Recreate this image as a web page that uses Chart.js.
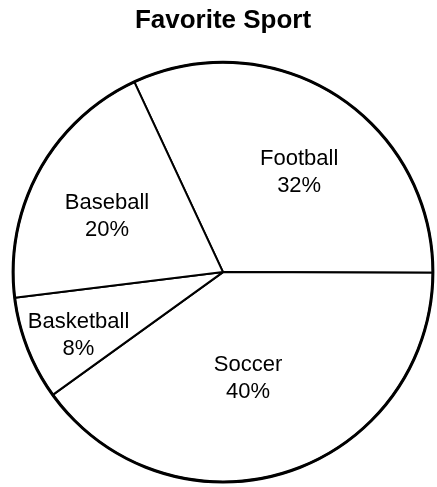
<!DOCTYPE html>
<html>
<head>
<meta charset="utf-8">
<script src="https://cdn.jsdelivr.net/npm/chart.js@4.4.0/dist/chart.umd.min.js"></script>
<style>
  html, body { margin: 0; padding: 0; background: #fff; }
  #wrap { width: 437px; height: 487px; }
</style>
</head>
<body>
<div id="wrap"><canvas id="myChart"></canvas></div>
<script>
const sports = ['Football', 'Soccer', 'Basketball', 'Baseball'];
const percents = [32, 40, 8, 20];

// placement of labels inside slices (fraction of radius, shift in degrees)
const labelRadius = [0.6, 0.52, 0.75, 0.615];
const labelShift = [4.6, 4.5, -2, -3];

const sliceLabels = {
  id: 'sliceLabels',
  afterDatasetsDraw(chart) {
    const ctx = chart.ctx;
    const arcs = chart.getDatasetMeta(0).data;
    ctx.save();
    // thicker outer ring
    const a0 = arcs[0];
    ctx.beginPath();
    ctx.arc(a0.x, a0.y, a0.outerRadius, 0, Math.PI * 2);
    ctx.lineWidth = 3;
    ctx.strokeStyle = '#000';
    ctx.stroke();

    ctx.font = '22px "Liberation Sans", Arial, sans-serif';
    ctx.fillStyle = '#000';
    ctx.textAlign = 'center';
    ctx.textBaseline = 'middle';
    arcs.forEach((arc, i) => {
      const mid = (arc.startAngle + arc.endAngle) / 2 + labelShift[i] * Math.PI / 180;
      const r = arc.outerRadius * labelRadius[i];
      const x = arc.x + Math.cos(mid) * r;
      const y = arc.y + Math.sin(mid) * r;
      ctx.fillText(sports[i], x, y - 13);
      ctx.fillText(percents[i] + '%', x, y + 14);
    });
    ctx.restore();
  }
};

new Chart('myChart', {
  type: 'pie',
  data: {
    labels: sports,
    datasets: [{
      data: percents,
      backgroundColor: '#fff',
      borderColor: '#000',
      borderWidth: 2,
      hoverOffset: 0
    }]
  },
  options: {
    responsive: true,
    maintainAspectRatio: false,
    animation: false,
    rotation: -25,
    layout: { padding: { left: 12, right: 3, top: 0, bottom: 4 } },
    plugins: {
      legend: { display: false },
      tooltip: { enabled: false },
      title: {
        display: true,
        text: 'Favorite Sport',
        color: '#000',
        font: { family: '"Liberation Sans", Arial, sans-serif', size: 26, weight: 'bold', lineHeight: 1.2 },
        padding: { top: 5, bottom: 25 }
      }
    }
  },
  plugins: [sliceLabels]
});
</script>
</body>
</html>
